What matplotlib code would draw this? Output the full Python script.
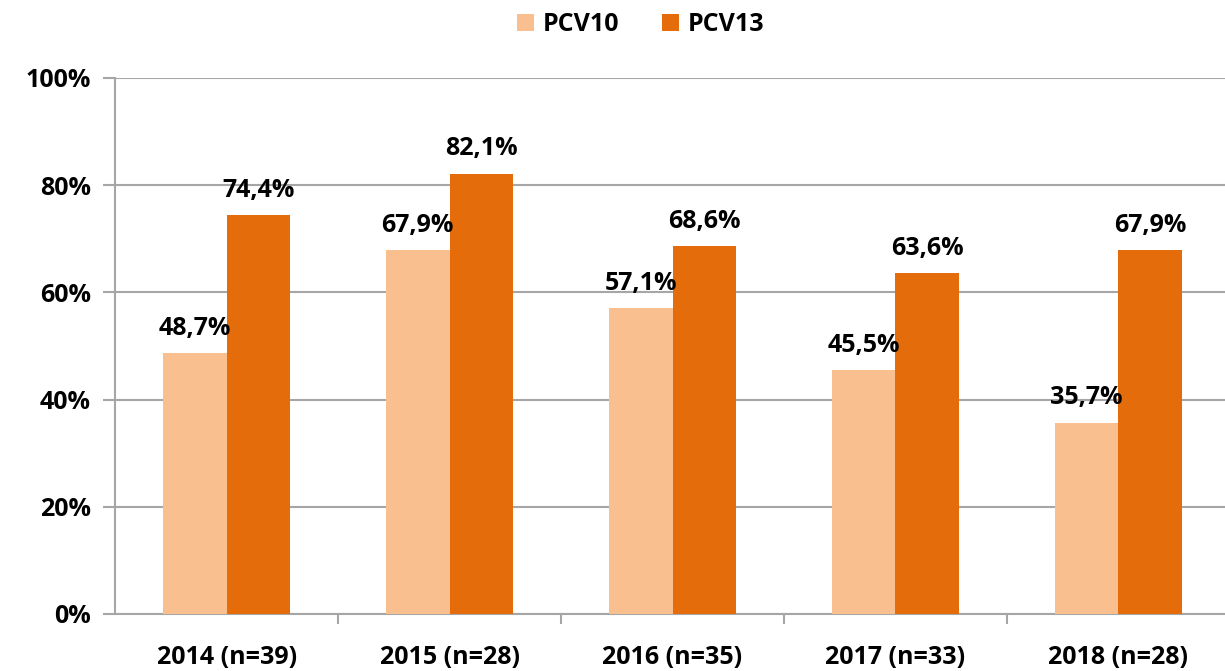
import matplotlib.pyplot as plt
import numpy as np

categorias = ['2014 (n=39)', '2015 (n=28)', '2016 (n=35)', '2017 (n=33)', '2018 (n=28)']
pcv10 = [48.7, 67.9, 57.1, 45.5, 35.7]
pcv13 = [74.4, 82.1, 68.6, 63.6, 67.9]
yticks = [0, 20, 40, 60, 80, 100]

c10 = '#F9BF8F'
c13 = '#E46C0A'
gris = '#A6A6A6'
fs = 18

plt.rcParams['font.family'] = ['Open Sans', 'DejaVu Sans']
plt.rcParams['font.weight'] = 'bold'

fig = plt.figure(figsize=(12.25, 6.71), dpi=100)
ax = fig.add_axes([0.094, 0.085, 0.91, 0.799])

x = np.arange(len(categorias))
w = 0.285
b1 = ax.bar(x - w/2, pcv10, w, color=c10, label='PCV10', zorder=3)
b2 = ax.bar(x + w/2, pcv13, w, color=c13, label='PCV13', zorder=3)

# etiquetas de valores
for xi, v in zip(x, pcv10):
    ax.text(xi - w/2, v + 2.3, f'{v:.1f}%'.replace('.', ','), ha='center', va='bottom',
            fontsize=fs, fontweight='bold', zorder=4)
for xi, v in zip(x, pcv13):
    ax.text(xi + w/2, v + 2.3, f'{v:.1f}%'.replace('.', ','), ha='center', va='bottom',
            fontsize=fs, fontweight='bold', zorder=4)

ax.set_ylim(0, 100)
ax.set_xlim(-0.5, 4.5)
ax.set_yticks(yticks)
ax.set_yticklabels([f'{t}%' for t in yticks], fontsize=fs, fontweight='bold')
ax.yaxis.grid(True, color=gris, linewidth=1.5, zorder=0)

ax.set_xticks(x)
ax.set_xticklabels(categorias, fontsize=fs, fontweight='bold')
ax.tick_params(axis='x', length=0, pad=22)
ax.set_xticks(np.arange(0.5, 4.5, 1), minor=True)
ax.tick_params(axis='x', which='minor', length=7, width=1.5, color=gris, direction='out')
ax.tick_params(axis='y', length=8.5, width=1.5, color=gris, pad=9)

for s in ['top', 'right']:
    ax.spines[s].set_visible(False)
ax.spines['left'].set_color(gris)
ax.spines['left'].set_linewidth(1.5)
ax.spines['bottom'].set_color(gris)
ax.spines['bottom'].set_linewidth(1.5)

fig.legend(handles=[b1, b2], loc='upper center', bbox_to_anchor=(0.523, 1.015), ncol=2,
           frameon=False, prop={'size': fs, 'weight': 'bold'}, handlelength=0.7,
           handleheight=0.7, columnspacing=1.7, handletextpad=0.35)

plt.savefig('out.png', dpi=100)
